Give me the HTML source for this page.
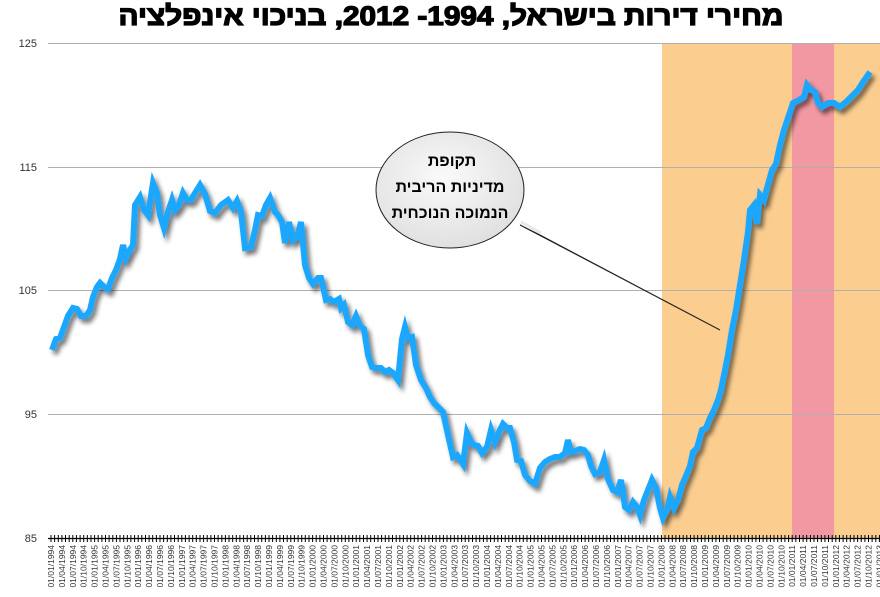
<!DOCTYPE html>
<html><head><meta charset="utf-8"><style>
body{margin:0;background:#fff;}
svg{display:block;font-family:"Liberation Sans",sans-serif;}
</style></head><body>
<svg width="880" height="597" viewBox="0 0 880 597" xmlns="http://www.w3.org/2000/svg">
<defs>
<filter id="sh" x="-5%" y="-5%" width="110%" height="110%">
<feGaussianBlur in="SourceAlpha" stdDeviation="2.5"/>
<feOffset dx="3" dy="4" result="b"/>
<feComponentTransfer><feFuncA type="linear" slope="0.55"/></feComponentTransfer>
<feMerge><feMergeNode/><feMergeNode in="SourceGraphic"/></feMerge>
</filter>
<radialGradient id="eg" cx="0.45" cy="0.4" r="0.7">
<stop offset="0" stop-color="#fafafa"/><stop offset="1" stop-color="#dcdcdc"/>
</radialGradient>
</defs>
<text x="451" y="25" text-anchor="middle" font-size="27" font-weight="bold" stroke="#000" stroke-width="1.3" font-family="'Liberation Sans','Noto Sans CJK SC',sans-serif" direction="rtl" textLength="665" lengthAdjust="spacingAndGlyphs">מחירי דירות בישראל, 1994- 2012, בניכוי אינפלציה</text>
<rect x="662" y="43" width="218" height="495" fill="#fbcd8f"/>
<rect x="792" y="43" width="42" height="495" fill="#f298a2"/>
<g stroke="#b0b0b0" stroke-width="1">
<line x1="48" y1="43.5" x2="880" y2="43.5"/>
<line x1="48" y1="167.5" x2="880" y2="167.5"/>
<line x1="48" y1="290.5" x2="880" y2="290.5"/>
<line x1="48" y1="414.5" x2="880" y2="414.5"/>
</g>
<g font-size="11" text-anchor="end" fill="#333">
<text x="37" y="47">125</text><text x="37" y="171">115</text><text x="37" y="294">105</text><text x="37" y="418">95</text><text x="37" y="542">85</text>
</g>
<line x1="48" y1="538.5" x2="880" y2="538.5" stroke="#000" stroke-width="1.2"/>
<g id="ticks" stroke="#000" stroke-width="1"></g>
<g id="xl" font-size="8.5" fill="#333"></g>
<polyline fill="none" stroke="#1aa7ff" stroke-width="6" stroke-linejoin="miter" filter="url(#sh)" points="52,350 56,339 60,338 64,327 68,316 73,308 77,309 81,316 86,316 90,310 93,297 97,287 100,283 104,287 108,289 112,278 116,270 120,259 123,245 126,258 130,250 133,245 135,205 140,197 144,210 148,215 153,183 157,193 160,215 164,228 168,212 172,200 175,210 179,205 183,193 187,200 191,200 195,193 200,185 205,194 210,211 215,213 221,205 228,200 233,208 237,201 241,212 245,248 251,247 255,230 258,215 262,216 266,205 270,198 275,212 278,215 282,222 285,243 289,222 293,240 297,237 301,222 305,265 309,278 313,284 318,278 321,278 326,300 330,299 334,302 339,299 341,308 344,305 348,322 352,325 356,316 360,326 364,329 368,355 372,367 376,368 381,368 385,372 389,370 393,373 398,380 402,339 405,327 408,338 412,337 416,365 421,380 426,388 430,397 434,403 438,407 443,412 448,435 453,457 457,455 463,464 467,433 471,442 474,445 478,446 482,453 487,447 491,430 495,442 499,432 503,424 507,428 510,428 514,442 517,460 521,461 525,475 530,481 535,484 540,468 545,462 550,459 555,457 560,457 565,453 568,440 571,452 575,451 580,449 584,450 588,455 591,466 595,474 600,472 604,460 608,479 613,490 617,492 621,480 625,507 629,510 633,502 637,507 640,515 644,500 648,490 652,480 656,488 660,508 663,518 667,510 670,497 674,508 678,500 682,485 686,476 690,466 693,452 697,448 702,430 706,428 710,418 714,410 718,400 721,390 725,370 728,355 732,330 736,310 740,285 744,260 748,232 750,210 754,205 757,224 760,195 764,200 767,188 772,170 776,164 780,145 784,130 789,115 793,103 799,100 804,97 807,85 811,90 815,92 818,103 822,107 828,103 834,103 840,107 847,101 853,95 858,90 863,82 870,72"/>
<path d="M520,225 L720,330 L540,235 Z" fill="#eee" stroke="#222" stroke-width="1"/>
<ellipse cx="450" cy="190" rx="74" ry="58" fill="url(#eg)" stroke="#222" stroke-width="1"/>
<path d="M521,222 L541,233" stroke="#e8e8e8" stroke-width="3"/>
<g font-size="16" font-weight="bold" text-anchor="middle" font-family="'Liberation Sans','Noto Sans CJK SC',sans-serif">
<text x="452" y="166">תקופת</text>
<text x="450" y="192">מדיניות הריבית</text>
<text x="450" y="218">הנמוכה הנוכחית</text>
</g>
</svg>
<script>
var t=document.getElementById('ticks'),xl=document.getElementById('xl');
var sp=10.9;
var s='';for(var i=0;i<240;i++){var x=51+i*sp/3;if(x>880)break;s+='<line x1="'+x.toFixed(1)+'" y1="535" x2="'+x.toFixed(1)+'" y2="542"/>';}
t.innerHTML=s;
var m=['01','04','07','10'],h='';
for(var k=0;k<77;k++){var x=51+k*sp+3;var lab='01/'+m[k%4]+'/'+(1994+Math.floor(k/4));
h+='<text transform="translate('+x.toFixed(1)+',545) rotate(-90)" text-anchor="end">'+lab+'</text>';}
xl.innerHTML=h;
</script>
</body></html>
